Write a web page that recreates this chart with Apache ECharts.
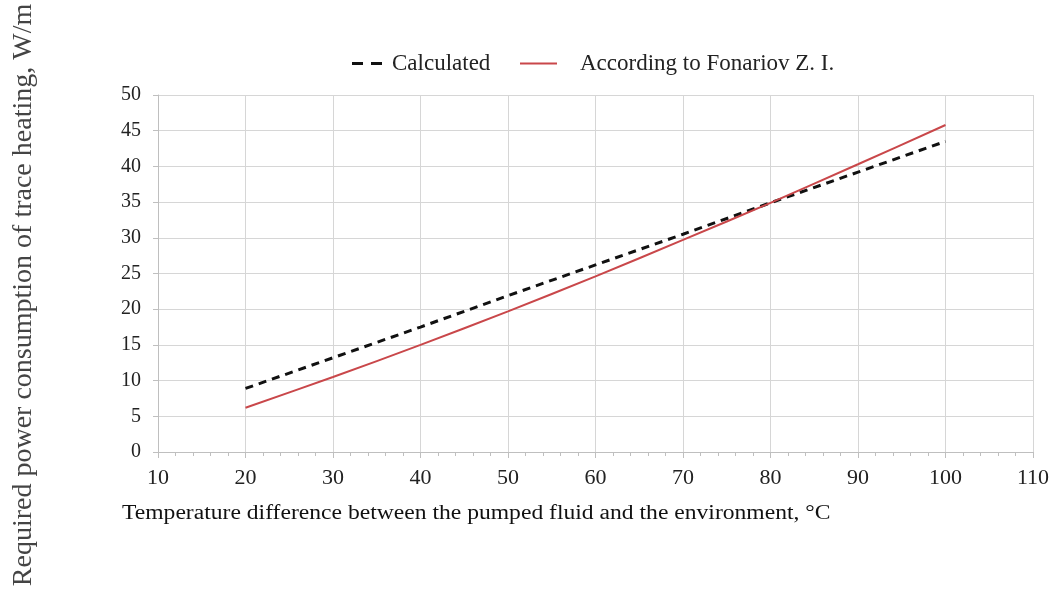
<!DOCTYPE html>
<html>
<head>
<meta charset="utf-8">
<script src="https://cdn.jsdelivr.net/npm/echarts@6/dist/echarts.min.js"></script>
<style>html,body{margin:0;padding:0;background:#fff}#c{width:1054px;height:590px}</style>
</head>
<body>
<div id="c"></div>
<script>
const tempDiff = [20, 30, 40, 50, 60, 70, 80, 90, 100];
const calculated = [8.9, 13.2, 17.5, 21.9, 26.2, 30.5, 34.9, 39.2, 43.5];
const fonariov = [6.2, 10.5, 15.0, 19.7, 24.6, 29.7, 34.9, 40.3, 45.8];
const seriesNames = ['Calculated', 'According to Fonariov Z. I.'];
const xTitle = 'Temperature difference between the pumped fluid and the environment, °C';
const yTitle = 'Required power consumption of trace heating, W/m';

const font = 'Liberation Serif, Times New Roman, serif';
const chart = echarts.init(document.getElementById('c'));
chart.setOption({
  animation: false,
  backgroundColor: '#fff',
  textStyle: { fontFamily: font },
  legend: [
    {
      top: 47, left: 347,
      itemWidth: 30, itemHeight: 3,
      textStyle: { fontFamily: font, fontSize: 23, color: '#222', padding: [0, 0, 0, 5] },
      data: [{ name: seriesNames[0], icon: 'path://M0,0 L11,0 L11,3 L0,3 Z M19,0 L30,0 L30,3 L19,3 Z' }]
    },
    {
      top: 47, left: 515,
      itemWidth: 37, itemHeight: 2,
      textStyle: { fontFamily: font, fontSize: 23, color: '#222', padding: [0, 0, 0, 18] },
      data: [{ name: seriesNames[1], icon: 'path://M0,0 L37,0 L37,2 L0,2 Z' }]
    }
  ],
  grid: { left: 158, right: 21, top: 95, bottom: 138 },
  xAxis: {
    type: 'value', min: 10, max: 110, interval: 10,
    axisLine: { show: true, lineStyle: { color: '#bfbfbf', width: 1 } },
    axisTick: { show: true, length: 6, lineStyle: { color: '#bfbfbf' } },
    minorTick: { show: true, splitNumber: 5, length: 4, lineStyle: { color: '#bfbfbf' } },
    splitLine: { show: true, lineStyle: { color: '#d6d6d6', width: 1 } },
    axisLabel: { fontFamily: font, fontSize: 22, color: '#222', margin: 15 }
  },
  yAxis: {
    type: 'value', min: 0, max: 50, interval: 5,
    axisLine: { show: true, lineStyle: { color: '#bfbfbf', width: 1 } },
    axisTick: { show: true, length: 5, lineStyle: { color: '#bfbfbf' } },
    splitLine: { show: true, lineStyle: { color: '#d6d6d6', width: 1 } },
    axisLabel: { fontFamily: font, fontSize: 20, color: '#222', margin: 17 }
  },
  graphic: [
    { type: 'text', x: 122, y: 514, scaleX: 1.18,
      style: { text: xTitle, fontFamily: font, fontSize: 20, fill: '#111', textAlign: 'left', textVerticalAlign: 'middle' } },
    { type: 'text', x: 24, y: 295, rotation: Math.PI / 2,
      style: { text: yTitle, fontFamily: font, fontSize: 28, fill: '#444', textAlign: 'center', textVerticalAlign: 'middle' } }
  ],
  series: [
    {
      name: seriesNames[0], type: 'line', showSymbol: false, symbol: 'none',
      data: tempDiff.map((t, i) => [t, calculated[i]]),
      lineStyle: { color: '#111', width: 3, type: [8, 6] },
      itemStyle: { color: '#111' }
    },
    {
      name: seriesNames[1], type: 'line', showSymbol: false, symbol: 'none', smooth: 0.3,
      data: tempDiff.map((t, i) => [t, fonariov[i]]),
      lineStyle: { color: '#c9474a', width: 2 },
      itemStyle: { color: '#c9474a' }
    }
  ]
});
</script>
</body>
</html>
